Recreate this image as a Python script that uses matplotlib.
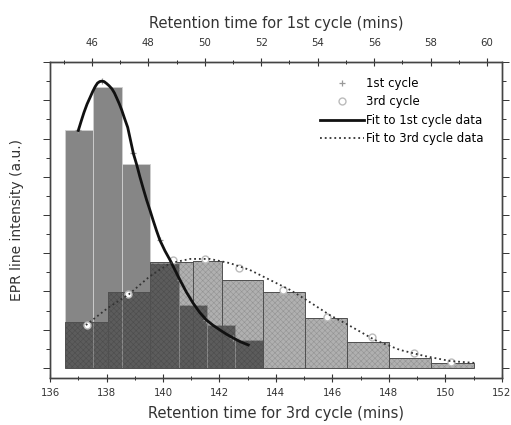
"""EPR line intensity vs retention time, 1st and 3rd cycle histograms with fits."""

import matplotlib

matplotlib.use("Agg")
import matplotlib.pyplot as plt
import numpy as np
from matplotlib.ticker import MultipleLocator, NullFormatter

plt.rcParams["font.family"] = ["DejaVu Sans"]
plt.rcParams["hatch.linewidth"] = 0.4

# offset between the two time axes (3rd cycle = 1st cycle + SHIFT)
SHIFT = 91.48

# 1st cycle histogram, in 1st-cycle minutes (top axis)
first_left = [45.05, 46.05, 47.05, 48.05, 49.07, 50.07, 51.07]
first_width = [1.0, 1.0, 1.0, 1.02, 1.0, 1.0, 0.98]
first_height = [6.23, 7.34, 5.33, 2.75, 1.64, 1.12, 0.72]

# 1st cycle fit, in 1st-cycle minutes
fit1_x = [45.52, 45.62, 45.72, 45.83, 45.94, 46.03, 46.12, 46.20, 46.28, 46.35,
          46.43, 46.52, 46.61, 46.71, 46.80, 46.88, 46.97, 47.06, 47.16, 47.27,
          47.37, 47.47, 47.59, 47.70, 47.82, 47.94, 48.06, 48.17, 48.29, 48.41,
          48.59, 48.77, 48.95, 49.12, 49.35, 49.59, 49.82, 50.06, 50.30, 50.54,
          50.77, 51.01, 51.27, 51.54]
fit1_y = [6.21, 6.45, 6.68, 6.90, 7.08, 7.23, 7.36, 7.45, 7.49, 7.50,
          7.49, 7.44, 7.38, 7.30, 7.19, 7.06, 6.91, 6.74, 6.52, 6.29,
          5.95, 5.61, 5.31, 5.00, 4.69, 4.39, 4.12, 3.86, 3.59, 3.34,
          3.06, 2.82, 2.55, 2.30, 1.98, 1.69, 1.45, 1.25, 1.11, 0.99,
          0.88, 0.78, 0.68, 0.60]
first_pts_x = [45.52, 46.35, 47.47, 48.41, 49.12, 50.06, 51.01]
first_pts_y = [6.21, 7.50, 5.61, 3.34, 2.30, 1.25, 0.78]

# 3rd cycle histogram, in 3rd-cycle minutes (bottom axis)
third_left = [136.53, 138.06, 139.53, 141.07, 142.08, 143.55, 145.03, 146.5, 148.0, 149.5]
third_width = [1.53, 1.47, 1.54, 1.01, 1.47, 1.48, 1.47, 1.5, 1.5, 1.5]
third_height = [1.20, 1.99, 2.78, 2.80, 2.30, 1.99, 1.30, 0.69, 0.25, 0.12]

# 3rd cycle data points and fit
third_pts_x = [137.3, 138.77, 140.34, 141.49, 142.7, 144.26, 145.8, 147.4, 148.9, 150.2]
third_pts_y = [1.12, 1.92, 2.82, 2.84, 2.60, 2.04, 1.34, 0.80, 0.40, 0.15]
fit3_x = [137.27, 138.05, 138.8, 139.54, 140.25, 140.96, 141.66, 142.37, 143.08,
          143.79, 144.5, 145.2, 145.91, 146.62, 147.5, 148.39, 149.27, 150.16, 151.04]
fit3_y = [1.12, 1.57, 1.93, 2.40, 2.74, 2.85, 2.85, 2.74, 2.56,
          2.30, 2.04, 1.72, 1.38, 1.10, 0.73, 0.47, 0.31, 0.18, 0.13]

TXT = "#333333"

fig = plt.figure(figsize=(5.11, 4.25), dpi=100)
ax = fig.add_axes([0.098, 0.111, 0.884, 0.743])

# 1st cycle bars (drawn in bottom-axis units)
ax.bar(np.array(first_left) + SHIFT, first_height, width=first_width, align="edge",
       color="#868686", edgecolor="#d0d0d0", linewidth=0.6, zorder=1)
# 3rd cycle bars: translucent dark with faint fine crosshatch, then outlines
ax.bar(third_left, third_height, width=third_width, align="edge",
       facecolor=(0.0, 0.0, 0.0, 0.31), edgecolor=(0.0, 0.0, 0.0, 0.16),
       hatch="xxxxxx", linewidth=0.0, zorder=2)
ax.bar(third_left, third_height, width=third_width, align="edge",
       fill=False, edgecolor="#505050", linewidth=0.7, zorder=2)

ax.plot(np.array(first_pts_x) + SHIFT, first_pts_y, "+", color="#999999",
        ms=4, mew=0.9, zorder=3, label="1st cycle")
ax.plot(third_pts_x, third_pts_y, "o", mfc="white", mec="#bbbbbb", ms=5,
        mew=1.0, zorder=4, label="3rd cycle")
ax.plot(np.array(fit1_x) + SHIFT, fit1_y, "-", color="#111111", lw=2.0,
        zorder=5, label="Fit to 1st cycle data")
ax.plot(fit3_x, fit3_y, ":", color="#333333", lw=1.3, zorder=5,
        label="Fit to 3rd cycle data")

ax.set_xlim(136, 152)
ax.set_ylim(-0.26, 8.0)
ax.xaxis.set_major_locator(MultipleLocator(2))
ax.xaxis.set_minor_locator(MultipleLocator(1))
ax.yaxis.set_major_locator(MultipleLocator(1))
ax.yaxis.set_minor_locator(MultipleLocator(0.5))
ax.yaxis.set_major_formatter(NullFormatter())
ax.tick_params(axis="x", which="major", direction="inout", length=6, width=0.8,
               labelsize=7.3, colors=TXT, pad=4)
ax.tick_params(axis="x", which="minor", direction="inout", length=3, width=0.6)
ax.tick_params(axis="y", which="both", direction="out", width=0.7, right=True,
               colors=TXT)
ax.tick_params(axis="y", which="major", length=5)
ax.tick_params(axis="y", which="minor", length=3)
ax.set_xlabel("Retention time for 3rd cycle (mins)", fontsize=10.5, color=TXT,
              labelpad=6)
ax.set_ylabel("EPR line intensity (a.u.)", fontsize=10, color=TXT, labelpad=10)

ax_top = ax.twiny()
ax_top.set_xlim(136 - SHIFT, 152 - SHIFT)
ax_top.xaxis.set_major_locator(MultipleLocator(2))
ax_top.xaxis.set_minor_locator(MultipleLocator(1))
ax_top.tick_params(axis="x", which="major", direction="inout", length=6, width=0.8,
                   labelsize=7.3, colors=TXT, pad=7)
ax_top.tick_params(axis="x", which="minor", direction="inout", length=3, width=0.6)
ax_top.set_xlabel("Retention time for 1st cycle (mins)", fontsize=10.5, color=TXT,
                  labelpad=7)

for a in (ax, ax_top):
    for sp in a.spines.values():
        sp.set_color("#444444")
        sp.set_linewidth(1.0)

ax.legend(loc="upper right", bbox_to_anchor=(0.975, 0.975), frameon=False,
          handlelength=3.7, handletextpad=0.15, labelspacing=0.45,
          borderaxespad=0.2, prop={"size": 8.5})

fig.savefig("out.png", dpi=100)
